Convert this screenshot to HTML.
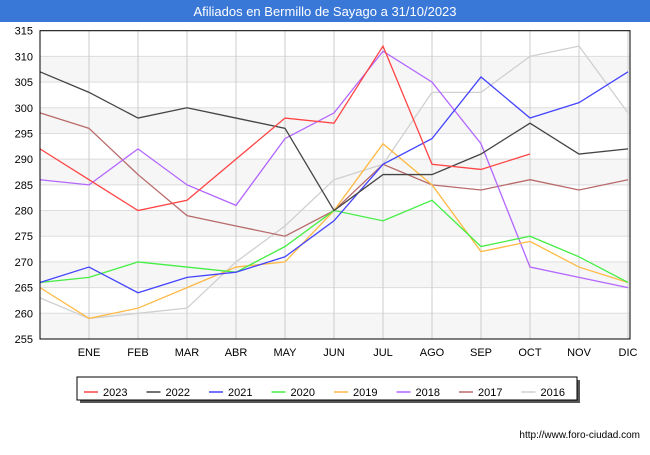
<!DOCTYPE html>
<html><head><meta charset="utf-8"><style>
body{margin:0;width:650px;height:450px;background:#fff;font-family:"Liberation Sans",sans-serif;overflow:hidden}
</style></head><body>
<svg width="650" height="450">
<rect x="0" y="0" width="650" height="22" fill="#3a78d8"/>
<text x="325" y="16" text-anchor="middle" fill="#fff" font-size="13">Afiliados en Bermillo de Sayago a 31/10/2023</text>
<g id="bands"></g><g id="grid"></g><g id="series"></g>
<rect x="40" y="30.7" width="590" height="308.3" fill="none" stroke="#000" stroke-width="1"/>
<g id="labels" font-size="11" fill="#000"></g>
<g>
<rect x="80" y="380" width="500" height="23" fill="#555"/>
<rect x="77" y="377" width="500" height="23" fill="#fff" stroke="#000"/>
<g id="legend"></g>
</g>
<text x="640" y="438" text-anchor="end" font-size="10" fill="#000">http://www.foro-ciudad.com</text>
</svg>
<script>
const months=["","ENE","FEB","MAR","ABR","MAY","JUN","JUL","AGO","SEP","OCT","NOV","DIC"];
const yTicks=[255,260,265,270,275,280,285,290,295,300,305,310,315];
const years=["2023","2022","2021","2020","2019","2018","2017","2016"];
const colors=["#ff4444","#444444","#4444ff","#44ee44","#ffb944","#b366ff","#b86a6a","#d0d0d0"];
const s2023=[292,286,280,282,290,298,297,312,289,288,291];
const s2022=[307,303,298,300,298,296,280,287,287,291,297,291,292];
const s2021=[266,269,264,267,268,271,278,289,294,306,298,301,307];
const s2020=[266,267,270,269,268,273,280,278,282,273,275,271,266];
const s2019=[265,259,261,265,269,270,280,293,285,272,274,269,266];
const s2018=[286,285,292,285,281,294,299,311,305,293,269,267,265];
const s2017=[299,296,287,279,277,275,280,289,285,284,286,284,286];
const s2016=[263,259,260,261,270,277,286,289,303,303,310,312,299];
const series=[s2023,s2022,s2021,s2020,s2019,s2018,s2017,s2016];
const NS="http://www.w3.org/2000/svg";
const X=i=>40+i*49;
const Y=v=>30.7+(315-v)*308.3/60;
function mk(t,a,p){const e=document.createElementNS(NS,t);for(const k in a)e.setAttribute(k,a[k]);p.appendChild(e);return e;}
const bands=document.getElementById('bands'),grid=document.getElementById('grid'),lab=document.getElementById('labels'),ser=document.getElementById('series'),leg=document.getElementById('legend');
for(let i=0;i<yTicks.length-1;i++){if(i%2==0){const r=mk('rect',{x:40,y:Y(yTicks[i+1]),width:590,height:Y(yTicks[i])-Y(yTicks[i+1]),fill:'#f6f6f6'},bands);

}}
yTicks.forEach(v=>{const l=mk('line',{x1:40,x2:630,y1:Y(v),y2:Y(v),stroke:'#dddddd'},grid);


const t=mk('text',{x:33,y:Y(v)+4,'text-anchor':'end'},lab);t.textContent=v;

});
months.forEach((m,i)=>{if(i>0){const l=mk('line',{x1:X(i),x2:X(i),y1:30.7,y2:339,stroke:'#cccccc'},grid);

}
if(m){const t=mk('text',{x:X(i),y:356,'text-anchor':'middle'},lab);t.textContent=m;

}});
for(let k=series.length-1;k>=0;k--){const p=mk('polyline',{points:series[k].map((v,i)=>X(i)+','+Y(v)).join(' '),fill:'none',stroke:colors[k],'stroke-width':1.3},ser);

}
years.forEach((y,k)=>{const x=84+k*62.5;
const l=mk('line',{x1:x,x2:x+14,y1:392,y2:392,stroke:colors[k],'stroke-width':1.5},leg);


const t=mk('text',{x:x+19,y:396,'font-size':11},leg);t.textContent=y;

});
</script>
</body></html>
